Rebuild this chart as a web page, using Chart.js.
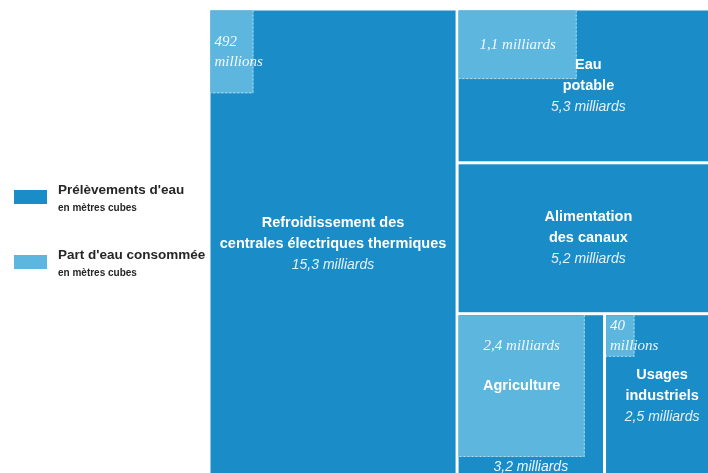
<!DOCTYPE html>
<html lang="fr">
<head>
<meta charset="utf-8">
<title>Prélèvements d'eau</title>
<script src="https://cdn.jsdelivr.net/npm/chart.js@4.4.1/dist/chart.umd.min.js"></script>
<style>
  html, body { margin: 0; padding: 0; background: #fff; }
  #wrap { position: relative; width: 708px; height: 473px; overflow: hidden; }
  #chart { position: absolute; left: 0; top: 0; }
  .legend { position: absolute; left: 14px; font-family: "Liberation Sans", Arial, sans-serif; font-weight: bold; color: #262626; }
  .swatch { position: absolute; left: 0; width: 33px; height: 14px; }
  .title { position: absolute; left: 44px; top: -8px; font-size: 13.5px; line-height: 15px; white-space: nowrap; }
  .sub { position: absolute; left: 44px; top: 12px; font-size: 10px; line-height: 12px; white-space: nowrap; }
</style>
</head>
<body>
<div id="wrap">
  <canvas id="chart" width="708" height="473"></canvas>
  <div class="legend" style="top:190px">
    <div class="swatch" style="background:#1a8cc8"></div>
    <div class="title">Prélèvements d'eau</div>
    <div class="sub">en mètres cubes</div>
  </div>
  <div class="legend" style="top:255px">
    <div class="swatch" style="background:#5cb6de"></div>
    <div class="title">Part d'eau consommée</div>
    <div class="sub">en mètres cubes</div>
  </div>
</div>
<script>
// usages, in milliards de m3
const categories = [
  ["Refroidissement des", "centrales électriques thermiques"],
  ["Eau", "potable"],
  ["Alimentation", "des canaux"],
  ["Agriculture"],
  ["Usages", "industriels"]
];
const withdrawals = [15.3, 5.3, 5.2, 3.2, 2.5];
const consumed = [0.492, 1.1, 0, 2.4, 0.04];

const DARK = "#1a8cc8";
const LIGHT = "#5cb6de";
const TREE_W = 108.7;
const TREE_H = 100;

function fmt(v) {
  if (v < 1) return Math.round(v * 1000) + " millions";
  return String(v).replace(".", ",") + " milliards";
}

function worst(row, side) {
  const sum = row.reduce((a, b) => a + b, 0);
  const max = Math.max(...row);
  const min = Math.min(...row);
  return Math.max((side * side * max) / (sum * sum), (sum * sum) / (side * side * min));
}

// squarified treemap, in data units
function squarify(values, box) {
  const total = values.reduce((a, b) => a + b, 0);
  const areas = values.map((v) => (v * box.w * box.h) / total);
  const rects = [];
  const rest = { ...box };
  let i = 0;
  while (i < areas.length) {
    const side = Math.min(rest.w, rest.h);
    const row = [areas[i]];
    let j = i + 1;
    while (j < areas.length && worst(row.concat(areas[j]), side) <= worst(row, side)) {
      row.push(areas[j]);
      j++;
    }
    const thick = row.reduce((a, b) => a + b, 0) / side;
    let off = 0;
    const vertical = rest.w >= rest.h;
    row.forEach((a) => {
      const len = a / thick;
      if (vertical) rects.push({ x: rest.x, y: rest.y + off, w: thick, h: len });
      else rects.push({ x: rest.x + off, y: rest.y, w: len, h: thick });
      off += len;
    });
    if (vertical) { rest.x += thick; rest.w -= thick; }
    else { rest.y += thick; rest.h -= thick; }
    i = j;
  }
  return rects;
}

const cells = squarify(withdrawals, { x: 0, y: 0, w: TREE_W, h: TREE_H });

const treemapPlugin = {
  id: "treemap",
  afterDraw(chart) {
    const ctx = chart.ctx;
    const xs = chart.scales.x;
    const ys = chart.scales.y;
    const gap = 1.5;
    const bold = "bold 14.5px 'Liberation Sans', Arial, sans-serif";
    const ital = "italic 14px 'Liberation Sans', Arial, sans-serif";
    const serif = "italic 15px 'Liberation Serif', 'DejaVu Serif', serif";
    const lh = 21;

    ctx.save();
    cells.forEach((r, i) => {
      const left = xs.getPixelForValue(r.x) + gap;
      const right = xs.getPixelForValue(r.x + r.w) - gap;
      const top = ys.getPixelForValue(r.y) + gap;
      const bottom = ys.getPixelForValue(r.y + r.h) - gap;
      ctx.fillStyle = DARK;
      ctx.fillRect(left, top, right - left, bottom - top);

      const cx = (left + right) / 2;
      const cy = (top + bottom) / 2;
      const name = categories[i];
      const ratio = consumed[i] / withdrawals[i];
      let box = null;

      if (ratio > 0) {
        // same shape as the cell, area in proportion; keep tiny ones readable
        const cellPx = xs.getPixelForValue(r.x + r.w) - xs.getPixelForValue(r.x);
        const k = Math.max(Math.sqrt(ratio), 30 / cellPx);
        const bRight = xs.getPixelForValue(r.x + r.w * k);
        const bBottom = ys.getPixelForValue(r.y + r.h * k);
        box = { left, top, right: bRight, bottom: bBottom };
        ctx.fillStyle = LIGHT;
        ctx.fillRect(left, top, bRight - left, bBottom - top);
        ctx.strokeStyle = "rgba(255,255,255,0.55)";
        ctx.lineWidth = 1;
        ctx.setLineDash([2, 2]);
        ctx.beginPath();
        ctx.moveTo(bRight - 0.5, top);
        ctx.lineTo(bRight - 0.5, bBottom - 0.5);
        ctx.lineTo(left, bBottom - 0.5);
        ctx.stroke();
        ctx.setLineDash([]);
      }

      ctx.textBaseline = "middle";
      if (box && ratio > 0.5) {
        // consumed share fills most of the cell
        const bx = (box.left + box.right) / 2;
        const by = (box.top + box.bottom) / 2;
        ctx.textAlign = "center";
        ctx.fillStyle = "#fff";
        ctx.font = bold;
        ctx.fillText(name[0], bx, by);
        ctx.font = serif;
        ctx.fillStyle = "rgba(255,255,255,0.92)";
        ctx.fillText(fmt(consumed[i]), bx, by - 40);
        ctx.font = ital;
        ctx.fillText(fmt(withdrawals[i]), cx, (box.bottom + bottom) / 2);
        return;
      }

      const lines = name.length + 1;
      const y0 = cy - ((lines - 1) * lh) / 2;
      ctx.textAlign = "center";
      ctx.fillStyle = "#fff";
      ctx.font = bold;
      name.forEach((t, n) => ctx.fillText(t, cx, y0 + n * lh));
      ctx.font = ital;
      ctx.fillStyle = "rgba(255,255,255,0.88)";
      ctx.fillText(fmt(withdrawals[i]), cx, y0 + name.length * lh);

      if (box) {
        const label = fmt(consumed[i]);
        ctx.font = serif;
        ctx.fillStyle = "rgba(255,255,255,0.92)";
        const bw = box.right - box.left;
        const by = (box.top + box.bottom) / 2;
        if (ctx.measureText(label).width < bw - 8) {
          ctx.textAlign = "center";
          ctx.fillText(label, (box.left + box.right) / 2, by);
        } else {
          const words = label.split(" ");
          ctx.textAlign = "left";
          const wy = by - ((words.length - 1) * 20) / 2;
          words.forEach((w, n) => ctx.fillText(w, box.left + 4, wy + n * 20));
        }
      }
    });
    ctx.restore();
  }
};

new Chart(document.getElementById("chart"), {
  type: "scatter",
  data: {
    datasets: [
      {
        data: cells.map((r) => ({ x: r.x + r.w / 2, y: r.y + r.h / 2 })),
        pointRadius: 0,
      },
    ],
  },
  options: {
    responsive: false,
    animation: false,
    events: [],
    layout: { padding: { left: 209, top: 9, right: 0, bottom: 0 } },
    plugins: {
      legend: { display: false },
      tooltip: { enabled: false },
    },
    scales: {
      x: { type: "linear", display: false, min: 0, max: 106.2 },
      y: { type: "linear", display: false, min: 0, max: 98.7, reverse: true },
    },
  },
  plugins: [treemapPlugin],
});
</script>
</body>
</html>
